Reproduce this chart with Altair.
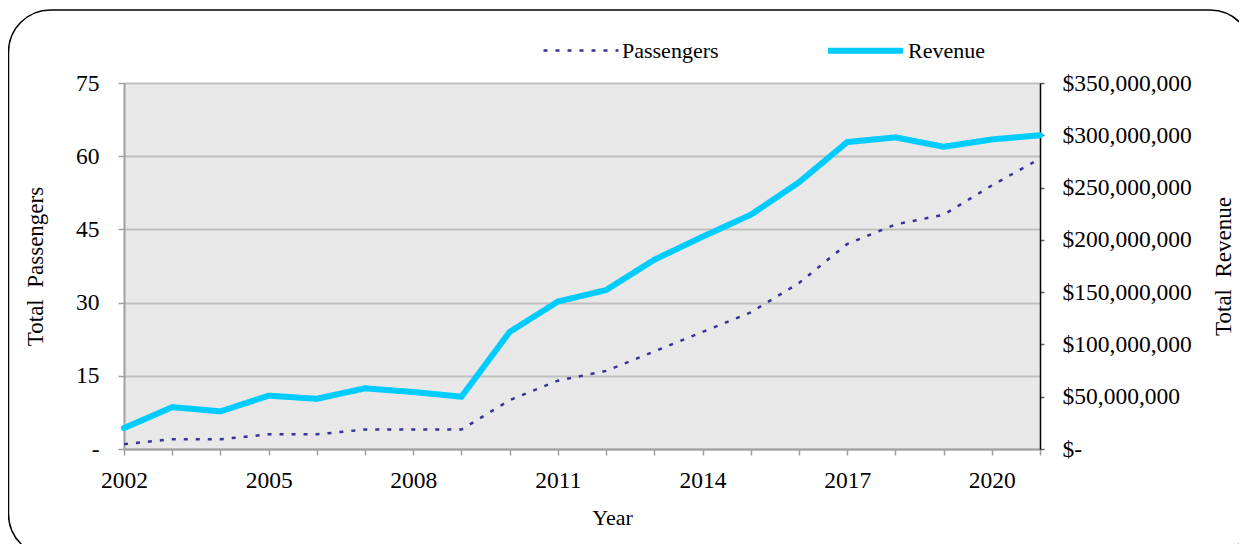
import altair as alt
import pandas as pd

years = list(range(2002, 2022))
passengers = [1, 2, 2, 3, 3, 4, 4, 4, 10, 14, 16, 20, 24, 28, 34, 42, 46, 48, 54, 59.5]
revenue = [20e6, 40e6, 36e6, 51e6, 48e6, 58e6, 54.5e6, 50e6, 112e6, 141e6, 152e6,
           181e6, 203e6, 224e6, 255e6, 293.5e6, 298e6, 289e6, 296e6, 300e6]
series_names = ["Passengers", "Revenue"]
left_ticks = [0, 15, 30, 45, 60, 75]
right_ticks = [0, 50e6, 100e6, 150e6, 200e6, 250e6, 300e6, 350e6]

rows = []
for y, p, r in zip(years, passengers, revenue):
    rows.append({"Year": y, "Series": "Passengers", "Value": p})
    rows.append({"Year": y, "Series": "Revenue", "Value": r})
df = pd.DataFrame(rows)

FONT = "Liberation Serif"
NB = "\u00a0"

legend = alt.Legend(
    orient="none", legendX=418, legendY=-73, direction="horizontal", title=None,
    symbolType="stroke", symbolSize=5625, labelFontSize=22, labelFont=FONT,
    labelColor="black", columnPadding=97, labelOffset=2, padding=0,
)
color = alt.Color("Series:N", scale=alt.Scale(domain=series_names, range=["#333399", "#00CCFF"]), legend=legend)
dash = alt.StrokeDash("Series:N", scale=alt.Scale(domain=series_names, range=[[4, 8], [1, 0]]), legend=legend)
width = alt.StrokeWidth("Series:N", scale=alt.Scale(domain=series_names, range=[2.5, 6]), legend=legend)

x = alt.X(
    "Year:Q",
    scale=alt.Scale(domain=[2002, 2021], nice=False, zero=False),
    axis=alt.Axis(
        values=years, format="d", grid=False, title="Year", labelFlush=False,
        labelExpr="(datum.value - 2002) % 3 == 0 ? datum.label : ''",
        domainColor="#A0A0A0", domainWidth=2, tickColor="#A0A0A0", tickSize=6, tickWidth=1.5,
        labelPadding=13, labelFontSize=23.5, titleFontSize=22,
        titleX=488, titleY=68, titleBaseline="middle",
    ),
)

passenger_layer = alt.Chart(df).transform_filter(alt.datum.Series == "Passengers").mark_line(
    strokeCap="butt"
).encode(
    x=x,
    y=alt.Y(
        "Value:Q",
        scale=alt.Scale(domain=[0, 75], nice=False),
        axis=alt.Axis(
            orient="left", values=left_ticks, title=f"Total{NB} Passengers",
            labelExpr=f"datum.value == 0 ? '-{NB}{NB}{NB}{NB}' : datum.label",
            grid=True, gridColor="#BFBFBF", gridWidth=2,
            domainColor="#A0A0A0", domainWidth=2, tickColor="#A0A0A0", tickSize=6, tickWidth=1.5,
            labelPadding=19, labelFontSize=23.5, titleFontSize=23,
            titleAngle=270, titleX=-89, titleY=183, titleAlign="center", titleBaseline="middle",
        ),
    ),
    color=color, strokeDash=dash, strokeWidth=width,
)

revenue_layer = alt.Chart(df).transform_filter(alt.datum.Series == "Revenue").mark_line(
    strokeCap="round", strokeJoin="miter"
).encode(
    x=x,
    y=alt.Y(
        "Value:Q",
        scale=alt.Scale(domain=[0, 350e6], nice=False),
        axis=alt.Axis(
            orient="right", values=right_ticks, title=f"Total{NB} Revenue",
            labelExpr="datum.value == 0 ? '$-' : '$' + format(datum.value, ',')",
            grid=False, domainColor="black", domainWidth=1.5,
            tickColor="#606060", tickSize=4, tickWidth=1.5,
            labelPadding=18, labelFontSize=23.5, titleFontSize=23,
            titleAngle=270, titleX=183, titleY=183, titleAlign="center", titleBaseline="middle",
        ),
    ),
    color=color, strokeDash=dash, strokeWidth=width,
)

frame = alt.Chart(pd.DataFrame({"a": [0]})).mark_rect(
    fill="transparent", stroke="black", strokeWidth=1.5, cornerRadius=42, clip=False
).encode(
    x=alt.value(-115.5), x2=alt.value(1128), y=alt.value(-73), y2=alt.value(473)
)

chart = alt.layer(frame, passenger_layer, revenue_layer).resolve_scale(
    y="independent"
).properties(
    width=916, height=366,
    padding={"left": 116, "top": 75, "right": 199, "bottom": 95},
    autosize=alt.AutoSizeParams(type="none"),
    background="white",
).configure(font=FONT).configure_axis(
    labelColor="black", titleColor="black", titleFontWeight="normal", labelFont=FONT, titleFont=FONT
).configure_view(fill="#E8E8E8", stroke=None)

chart.save("out.html", embed_options={"renderer": "svg", "actions": False})
